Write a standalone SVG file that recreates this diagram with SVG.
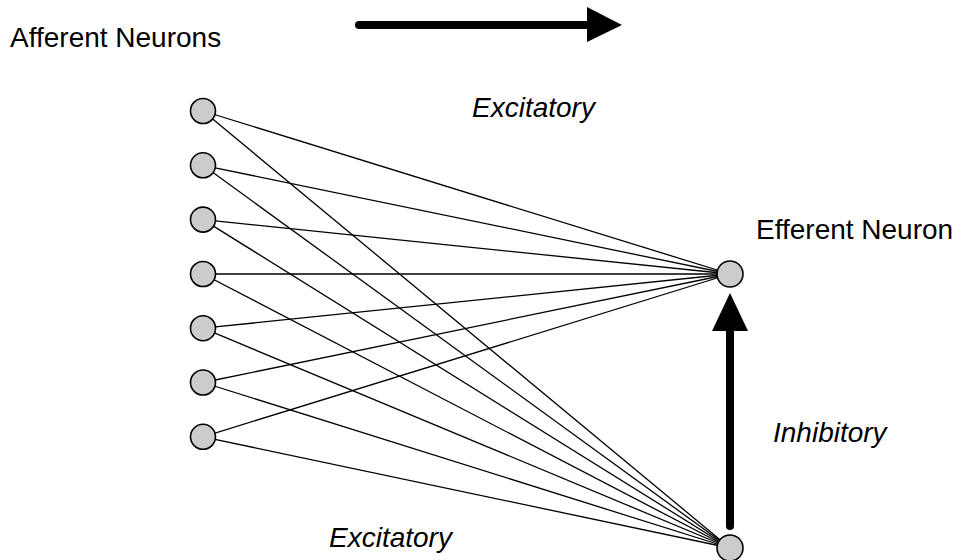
<svg xmlns="http://www.w3.org/2000/svg" width="964" height="560" viewBox="0 0 964 560">
  <style>
    .label { font-family: "Liberation Sans", Arial, sans-serif; font-size: 28px; fill: #000; }
    .italic { font-style: italic; }
    .link { stroke: #000; stroke-width: 1.3; fill: none; }
    .neuron { fill: #cccccc; stroke: #000; stroke-width: 1.6; }
    .bold-arrow { stroke: #000; stroke-width: 8; stroke-linecap: round; fill: none; }
  </style>
  <rect width="964" height="560" fill="#ffffff"/>

  <!-- synaptic connections: every afferent neuron projects to both targets -->
  <g id="connectors">
    <line class="link" x1="203" y1="111" x2="730" y2="274"/>
    <line class="link" x1="203" y1="165.3" x2="730" y2="274"/>
    <line class="link" x1="203" y1="219.6" x2="730" y2="274"/>
    <line class="link" x1="203" y1="274" x2="730" y2="274"/>
    <line class="link" x1="203" y1="328.2" x2="730" y2="274"/>
    <line class="link" x1="203" y1="382.5" x2="730" y2="274"/>
    <line class="link" x1="203" y1="436.8" x2="730" y2="274"/>
    <line class="link" x1="203" y1="111" x2="730" y2="548"/>
    <line class="link" x1="203" y1="165.3" x2="730" y2="548"/>
    <line class="link" x1="203" y1="219.6" x2="730" y2="548"/>
    <line class="link" x1="203" y1="274" x2="730" y2="548"/>
    <line class="link" x1="203" y1="328.2" x2="730" y2="548"/>
    <line class="link" x1="203" y1="382.5" x2="730" y2="548"/>
    <line class="link" x1="203" y1="436.8" x2="730" y2="548"/>

    <!-- inhibitory arrow from interneuron up to the efferent neuron -->
    <g id="inhibitory-arrow">
      <line class="bold-arrow" x1="730" y1="526" x2="730" y2="330"/>
      <polygon points="730,293 748,331 712,331" fill="#000"/>
    </g>

    <!-- direction arrow at top -->
    <g id="direction-arrow">
      <line class="bold-arrow" x1="359" y1="25" x2="588" y2="25"/>
      <polygon points="587,7 622,25 587,42" fill="#000"/>
    </g>
  </g>

  <!-- afferent neurons -->
  <g id="afferent-1"><circle class="neuron" cx="203" cy="111" r="12.5"/></g>
  <g id="afferent-2"><circle class="neuron" cx="203" cy="165.3" r="12.5"/></g>
  <g id="afferent-3"><circle class="neuron" cx="203" cy="219.6" r="12.5"/></g>
  <g id="afferent-4"><circle class="neuron" cx="203" cy="274" r="12.5"/></g>
  <g id="afferent-5"><circle class="neuron" cx="203" cy="328.2" r="12.5"/></g>
  <g id="afferent-6"><circle class="neuron" cx="203" cy="382.5" r="12.5"/></g>
  <g id="afferent-7"><circle class="neuron" cx="203" cy="436.8" r="12.5"/></g>

  <!-- efferent neuron -->
  <g id="efferent"><circle class="neuron" cx="730" cy="274" r="13"/></g>

  <!-- inhibitory interneuron -->
  <g id="interneuron"><circle class="neuron" cx="730" cy="548" r="13"/></g>

  <!-- labels -->
  <g id="labels">
    <text class="label" x="10" y="47">Afferent Neurons</text>
    <text class="label italic" x="472" y="117">Excitatory</text>
    <text class="label" x="756" y="239">Efferent Neuron</text>
    <text class="label italic" x="773" y="442">Inhibitory</text>
    <text class="label italic" x="329" y="547">Excitatory</text>
  </g>
</svg>
